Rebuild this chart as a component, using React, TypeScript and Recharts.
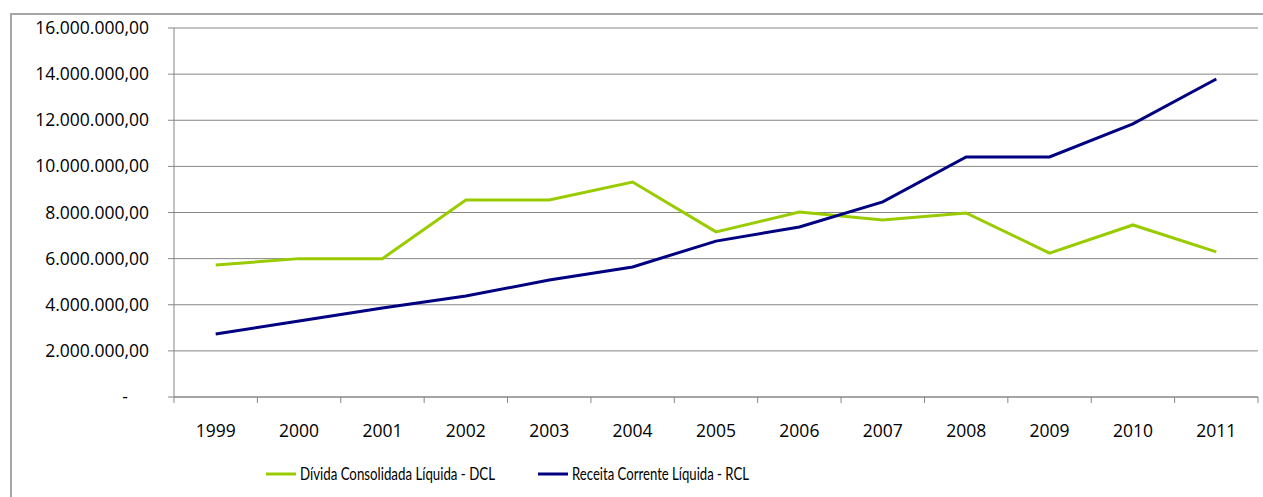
import React from "react";
import {
  LineChart,
  Line,
  XAxis,
  YAxis,
  CartesianGrid,
  Legend,
} from "recharts";

const years = ["1999", "2000", "2001", "2002", "2003", "2004", "2005", "2006", "2007", "2008", "2009", "2010", "2011"];
const dcl = [5720000, 6000000, 6000000, 8540000, 8540000, 9320000, 7160000, 8020000, 7680000, 7980000, 6240000, 7460000, 6290000];
const rcl = [2730000, 3300000, 3860000, 4380000, 5070000, 5640000, 6760000, 7370000, 8460000, 10410000, 10410000, 11840000, 13790000];
const yTicks = [0, 2000000, 4000000, 6000000, 8000000, 10000000, 12000000, 14000000, 16000000];

const SERIES = [
  { key: "dcl", name: "Dívida Consolidada Líquida - DCL", color: "#99CC00" },
  { key: "rcl", name: "Receita Corrente Líquida - RCL", color: "#000080" },
];

const data = years.map((y, i) => ({ year: y, dcl: dcl[i], rcl: rcl[i] }));

const AXIS_FONT = "'Open Sans', Lato, sans-serif";
const LEGEND_FONT = "Lato, 'Open Sans', sans-serif";
const AXIS = "#868686";

function fmt(v: number) {
  if (v === 0) return "-";
  const s = Math.round(v).toString().replace(/\B(?=(\d{3})+(?!\d))/g, ".");
  return s + ",00";
}

function YTick(props: any) {
  const { x, y, payload } = props;
  const zero = payload.value === 0;
  return (
    <text
      x={zero ? x - 21 : x}
      y={y}
      dy={6}
      textAnchor="end"
      fontFamily={AXIS_FONT}
      fontSize={17.5}
      fill="#000"
    >
      {fmt(payload.value)}
    </text>
  );
}

function XTick(props: any) {
  const { x, y, payload, index, visibleTicksCount } = props;
  const half = payload.offset ?? 41.7;
  const last = index === (visibleTicksCount ?? years.length) - 1;
  return (
    <g>
      <line x1={x - half} x2={x - half} y1={y - 8} y2={y - 2} stroke={AXIS} />
      {last && <line x1={x + half} x2={x + half} y1={y - 8} y2={y - 2} stroke={AXIS} />}
      <text x={x} y={y} dy={32} textAnchor="middle" fontFamily={AXIS_FONT} fontSize={17.5} fill="#000">
        {payload.value}
      </text>
    </g>
  );
}

// legend items: line start, text start, text width
const LEGEND_POS = [
  { x: 266, w: 195 },
  { x: 538, w: 177 },
];

function LegendContent() {
  return (
    <svg width={1263} height={40} style={{ display: "block" }}>
      {SERIES.map((s, i) => {
        const p = LEGEND_POS[i];
        return (
          <g key={s.key}>
            <line x1={p.x} x2={p.x + 30} y1={17} y2={17} stroke={s.color} strokeWidth={3} />
            <text
              x={p.x + 34}
              y={17}
              dy={6}
              fontFamily={LEGEND_FONT}
              fontSize={17.5}
              textLength={p.w}
              lengthAdjust="spacingAndGlyphs"
              fill="#000"
            >
              {s.name}
            </text>
          </g>
        );
      })}
    </svg>
  );
}

export default function App() {
  return (
    <div style={{ position: "absolute", left: 0, top: 0, width: 1263, height: 497, background: "#fff", overflow: "hidden" }}>
      <div
        style={{
          position: "absolute",
          left: 10,
          top: 13,
          width: 1300,
          height: 520,
          border: "2px solid #a6a6a6",
          boxSizing: "border-box",
        }}
      />
      <div style={{ position: "absolute", left: 0, top: 0 }}>
        <LineChart width={1263} height={497} data={data} margin={{ top: 28, right: 5, bottom: 0, left: 0 }}>
          <CartesianGrid vertical={false} stroke={AXIS} strokeWidth={1} />
          <XAxis
            dataKey="year"
            scale="band"
            height={60}
            stroke={AXIS}
            tickLine={false}
            tick={<XTick />}
            interval={0}
          />
          <YAxis
            width={174}
            domain={[0, 16000000]}
            ticks={yTicks}
            interval={0}
            stroke={AXIS}
            tickSize={6}
            tickMargin={19}
            tick={<YTick />}
          />
          <Legend
            verticalAlign="bottom"
            wrapperStyle={{ height: 40, left: 0, bottom: 0 }}
            content={<LegendContent />}
          />
          {SERIES.map((s) => (
            <Line
              key={s.key}
              type="linear"
              dataKey={s.key}
              name={s.name}
              stroke={s.color}
              strokeWidth={3}
              dot={false}
              isAnimationActive={false}
            />
          ))}
        </LineChart>
      </div>
    </div>
  );
}
